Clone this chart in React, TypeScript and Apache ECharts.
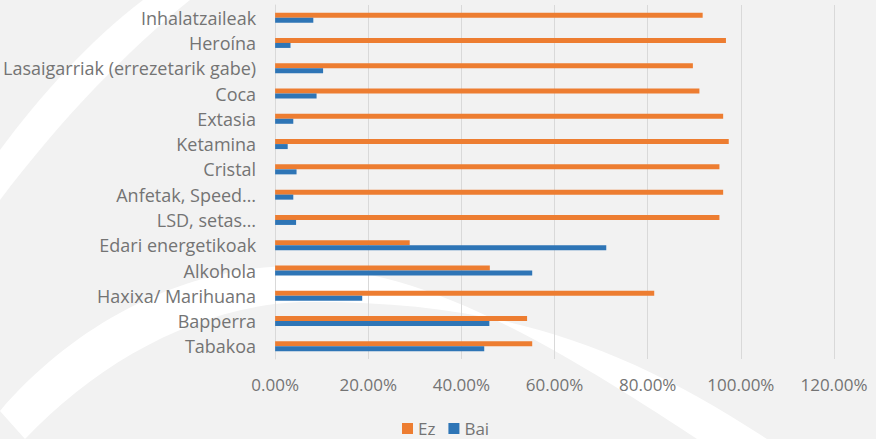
import React, { useEffect, useRef } from "react";
import * as echarts from "echarts";

const categories = [
  "Tabakoa",
  "Bapperra",
  "Haxixa/ Marihuana",
  "Alkohola",
  "Edari energetikoak",
  "LSD, setas…",
  "Anfetak, Speed…",
  "Cristal",
  "Ketamina",
  "Extasia",
  "Coca",
  "Lasaigarriak (errezetarik gabe)",
  "Heroína",
  "Inhalatzaileak",
];
const ezValues = [55.2, 54.1, 81.4, 46.1, 28.9, 95.4, 96.2, 95.4, 97.4, 96.2, 91.1, 89.7, 96.8, 91.8];
const baiValues = [44.9, 46.0, 18.7, 55.2, 71.1, 4.5, 3.9, 4.6, 2.7, 3.9, 8.9, 10.3, 3.3, 8.2];
const seriesNames = ["Ez", "Bai"];

const bandTop = "M 0 150 C 40 96 88 42 143 0 L 190 0 C 128 50 62 118 0 200 Z";
const bandBottom =
  "M 0 411 C 80 318 190 266 295 266 C 410 268 520 322 697 439 L 767 439 C 610 335 480 300 300 302 C 200 306 100 360 25 439 Z";

echarts.graphic.registerShape("bandTop", echarts.graphic.extendPath(bandTop, {}));
echarts.graphic.registerShape("bandBottom", echarts.graphic.extendPath(bandBottom, {}));

const FONT = "Open Sans";
const TEXT_COLOR = "#747474";

export default function App() {
  const ref = useRef<HTMLDivElement>(null);
  useEffect(() => {
    if (!ref.current) return;
    const chart = echarts.init(ref.current, undefined, { renderer: "svg" });
    chart.setOption({
      animation: false,
      backgroundColor: "#F2F2F2",
      textStyle: { fontFamily: FONT },
      graphic: [
        { type: "bandTop", x: 0, y: 0, z: -10, silent: true, style: { fill: "#FFFFFF" } },
        { type: "bandBottom", x: 0, y: 0, z: -10, silent: true, style: { fill: "#FFFFFF" } },
      ],
      legend: {
        data: seriesNames,
        left: 402,
        top: 420,
        padding: 0,
        itemWidth: 11,
        itemHeight: 11,
        itemGap: 13,
        icon: "rect",
        textStyle: { fontFamily: FONT, fontSize: 17, color: TEXT_COLOR },
      },
      grid: { left: 275, right: 42, top: 5, bottom: 80, containLabel: false },
      xAxis: {
        type: "value",
        min: 0,
        max: 120,
        interval: 20,
        axisLine: { show: false },
        axisTick: { show: false },
        splitLine: { show: true, lineStyle: { color: "#D9D9D9", width: 1 } },
        axisLabel: {
          margin: 17,
          fontFamily: FONT,
          fontSize: 17,
          color: TEXT_COLOR,
          formatter: (v: number) => v.toFixed(2) + "%",
        },
      },
      yAxis: {
        type: "category",
        data: categories,
        axisLine: { show: true, lineStyle: { color: "#D9D9D9", width: 1 } },
        axisTick: { show: false },
        axisLabel: { margin: 19, fontFamily: FONT, fontSize: 18, color: TEXT_COLOR },
      },
      series: [
        {
          name: "Ez",
          type: "bar",
          data: ezValues,
          barWidth: 5,
          barGap: "0%",
          itemStyle: { color: "#ED7D31" },
        },
        {
          name: "Bai",
          type: "bar",
          data: baiValues,
          barWidth: 5,
          barGap: "0%",
          itemStyle: { color: "#2E75B6" },
        },
      ],
    });
    return () => chart.dispose();
  }, []);
  return <div ref={ref} style={{ position: "fixed", left: 0, top: 0, width: 876, height: 439 }} />;
}
